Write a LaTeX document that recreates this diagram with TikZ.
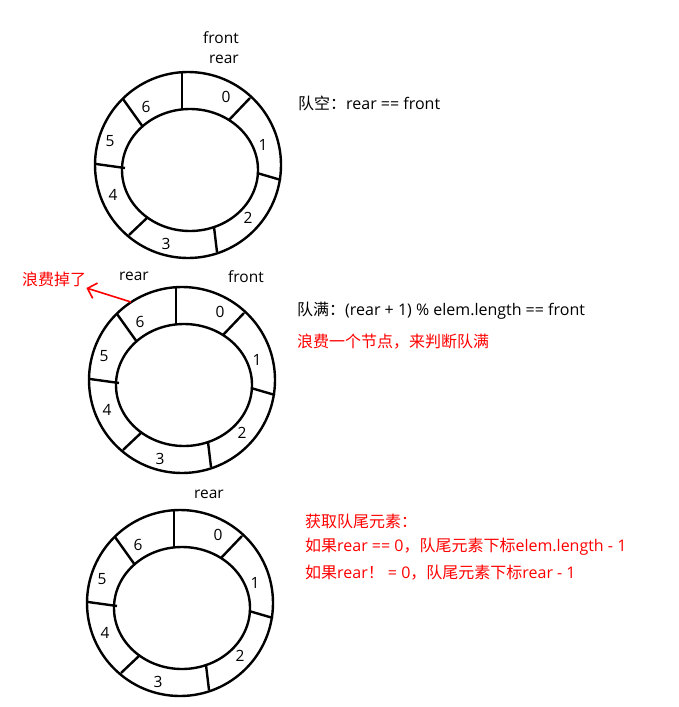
\documentclass[tikz,border=0pt]{standalone}
\usepackage{fontspec}
\setmainfont{Open Sans}
\newfontfamily\cjk{Noto Sans CJK SC}
\usetikzlibrary{arrows.meta}
\begin{document}
\begin{tikzpicture}[x=1pt,y=-1pt,
  ringline/.style={line width=2.4pt},
  lbl/.style={font=\fontsize{15.5}{17}\selectfont, inner sep=0pt},
  txt/.style={font=\fontsize{16}{18}\selectfont, inner sep=0pt, anchor=west},
  redtxt/.style={txt, text=red}]
\useasboundingbox (0,0) rectangle (679,707);
\fill[white] (0,0) rectangle (679,707);
\newcommand{\myring}{%
  \draw[ringline] (188,165) ellipse [x radius=93, y radius=93];
  \draw[ringline] (190,170) ellipse [x radius=68, y radius=61];
  \draw[ringline] (182,73) -- (182,109);
  \draw[ringline] (250,98) -- (229,120);
  \draw[ringline] (281,180) -- (257,173);
  \draw[ringline] (217,252) -- (214,227);
  \draw[ringline] (129,235) -- (148,217);
  \draw[ringline] (96,164) -- (125,168);
  \draw[ringline] (123,99) -- (143,127);
  \node[lbl] at (226,97) {0};
  \node[lbl] at (263,145) {1};
  \node[lbl] at (248,218) {2};
  \node[lbl] at (166,244) {3};
  \node[lbl] at (113,195) {4};
  \node[lbl] at (110,141) {5};
  \node[lbl] at (146,107) {6};
}
\begin{scope}
  \myring
\end{scope}
\node[lbl] (f1) at (221,38) {front};
\node[lbl] (r1) at (224,59) {rear};
\node[txt] (t1) at (298,103) {{\cjk 队空：}rear == front};

\begin{scope}[shift={(-6,215)}]
  \myring
\end{scope}
\node[lbl] (r2) at (134,276) {rear};
\node[lbl] (f2) at (246,277) {front};
\node[redtxt] (w) at (22,279) {\cjk 浪费掉了};
\coordinate (a2) at (131,302);
\draw[red, line width=1.6pt, -{Straight Barb[length=8pt,width=16pt]}] (a2) -- (w.east |- 0,288) ;
\node[txt] (t2) at (297,311) {{\cjk 队满：}(rear + 1) \% elem.length == front};
\node[redtxt] (t3) at (297,342) {\cjk 浪费一个节点，来判断队满};

\begin{scope}[shift={(-8,438)}]
  \myring
\end{scope}
\node[lbl] (r3) at (209,494) {rear};
\node[redtxt] (t4) at (305,521) {\cjk 获取队尾元素：};
\node[redtxt] (t5) at (305,547) {{\cjk 如果}rear == 0{\cjk ，队尾元素下标}elem.length - 1};
\node[redtxt] (t6) at (305,573) {{\cjk 如果}rear{\cjk ！} = 0{\cjk ，队尾元素下标}rear - 1};
\end{tikzpicture}
\end{document}
